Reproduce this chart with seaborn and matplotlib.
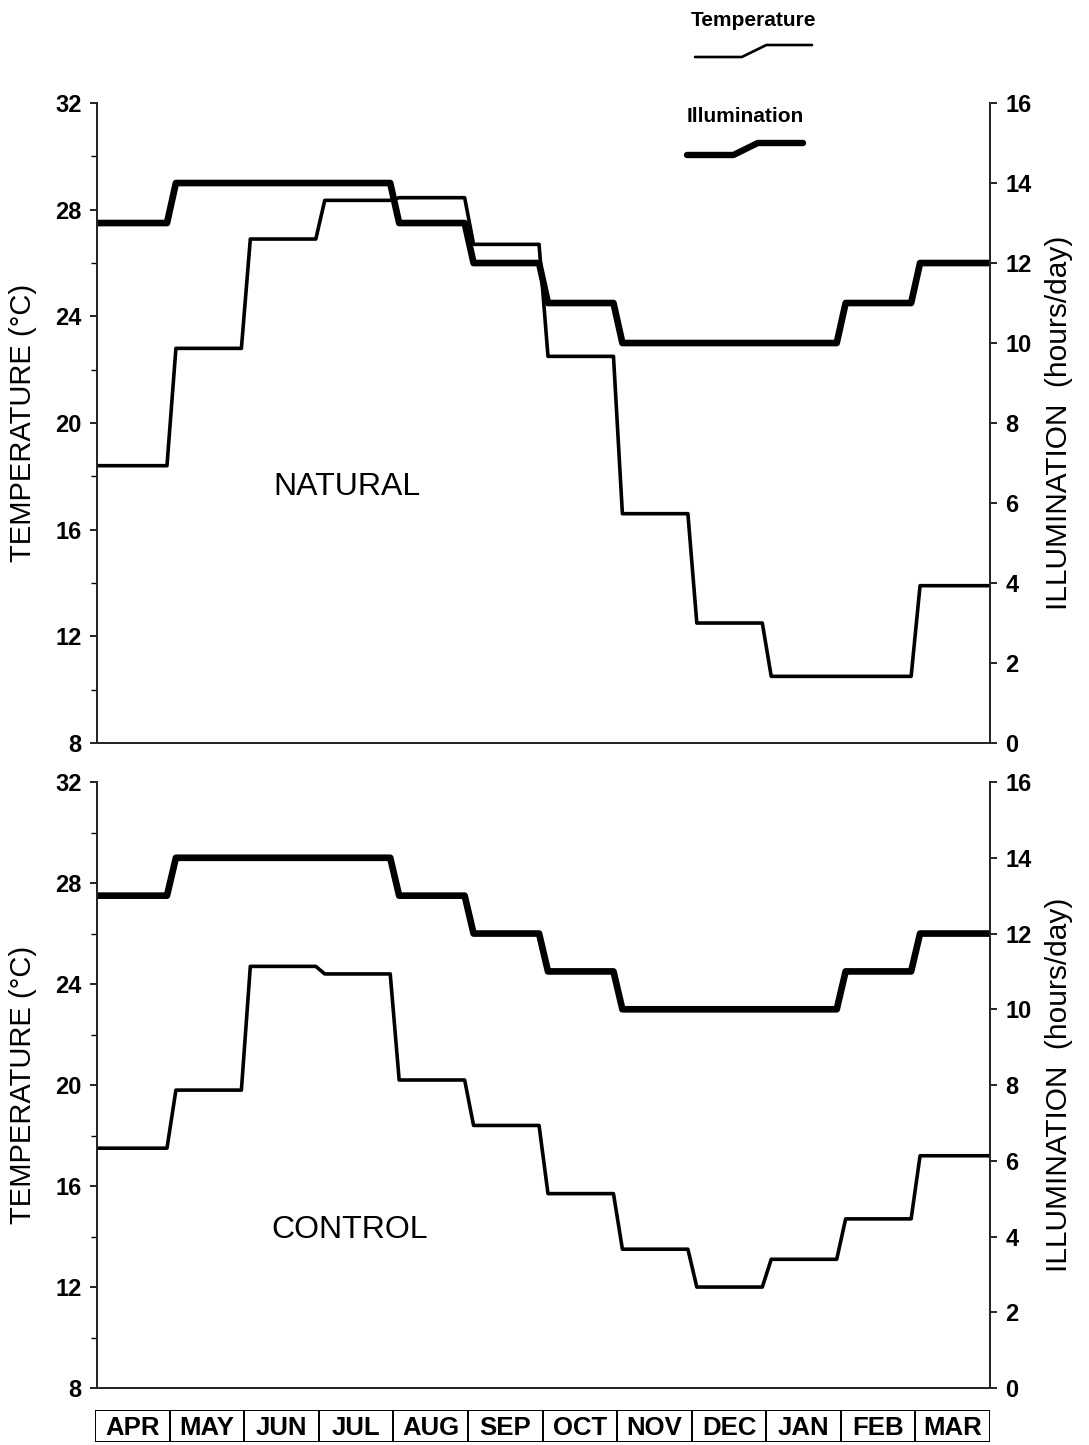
import numpy as np
import pandas as pd
import matplotlib
matplotlib.use("Agg")
import matplotlib.pyplot as plt
from matplotlib.ticker import MultipleLocator
import seaborn as sns

months = ["APR", "MAY", "JUN", "JUL", "AUG", "SEP", "OCT", "NOV", "DEC", "JAN", "FEB", "MAR"]

# temperature (°C), one value per month
natural_temp = [18.4, 22.8, 26.9, 28.35, 28.45, 26.7, 22.5, 16.6, 12.5, 10.5, 10.5, 13.9]
control_temp = [17.5, 19.8, 24.7, 24.4, 20.2, 18.4, 15.7, 13.5, 12.0, 13.1, 14.7, 17.2]

# illumination (hours/day), one value per month
natural_light = [13, 14, 14, 14, 13, 12, 11, 10, 10, 10, 11, 12]
control_light = [13, 14, 14, 14, 13, 12, 11, 10, 10, 10, 11, 12]

temp_ticks = [8, 12, 16, 20, 24, 28, 32]
light_ticks = [0, 2, 4, 6, 8, 10, 12, 14, 16]

# legend glyph: flat, short ramp, flat
glyph_x = [0.0, 0.4, 0.61, 1.0]
glyph_y = [0.0, 0.0, 1.0, 1.0]


def steps(values, ramp=0.06):
    # monthly values -> step line with short sloped transitions
    xs, ys = [], []
    n = len(values)
    for i, v in enumerate(values):
        xs += [i + (ramp if i > 0 else 0), i + 1 - (ramp if i < n - 1 else 0)]
        ys += [v, v]
    return pd.DataFrame({"month": xs, "value": ys})


sns.set_theme(style="ticks")
plt.rcParams["font.family"] = ["Liberation Sans", "DejaVu Sans"]
plt.rcParams["axes.linewidth"] = 1.4
plt.rcParams["text.color"] = "black"
plt.rcParams["axes.labelcolor"] = "black"
plt.rcParams["xtick.color"] = "black"
plt.rcParams["ytick.color"] = "black"

fig = plt.figure(figsize=(10.89, 14.45), dpi=100)

panels = [
    ("NATURAL", natural_temp, natural_light, [0.0891, 0.4858, 0.8200, 0.4429], (0.28, 0.40)),
    ("CONTROL", control_temp, control_light, [0.0891, 0.0394, 0.8200, 0.4194], (0.283, 0.261)),
]

tick_kw = dict(labelsize=17, width=1.2, length=5, pad=6, color="black", labelcolor="black")

for name, temp, light, rect, txt in panels:
    ax = fig.add_axes(rect)
    sns.lineplot(data=steps(temp), x="month", y="value", sort=False, estimator=None,
                 color="black", linewidth=2.6, ax=ax)
    ax.set_xlim(0, 12)
    ax.set_ylim(8, 32)
    ax.set_xticks([])
    ax.set_yticks(temp_ticks)
    ax.yaxis.set_minor_locator(MultipleLocator(2))
    ax.tick_params(axis="y", which="major", **tick_kw)
    ax.tick_params(axis="y", which="minor", width=1.0, length=4, color="black")
    for lab in ax.get_yticklabels():
        lab.set_fontweight("bold")
    ax.spines["top"].set_visible(False)
    ax.set_xlabel("")
    ax.set_ylabel("TEMPERATURE (°C)", fontsize=21)
    ax.yaxis.set_label_coords(-0.067, 0.5)
    ax.text(txt[0], txt[1], name, transform=ax.transAxes, fontsize=23,
            ha="center", va="center")

    ax2 = ax.twinx()
    sns.lineplot(data=steps(light), x="month", y="value", sort=False, estimator=None,
                 color="black", linewidth=4.8, ax=ax2)
    ax2.set_ylim(0, 16)
    ax2.set_yticks(light_ticks)
    ax2.tick_params(axis="y", which="major", **tick_kw)
    for lab in ax2.get_yticklabels():
        lab.set_fontweight("bold")
    ax2.spines["top"].set_visible(False)
    ax2.set_xlabel("")
    ax2.set_ylabel("ILLUMINATION  (hours/day)", fontsize=21.5, rotation=90)
    ax2.yaxis.set_label_coords(1.062, 0.5)
    ax2.yaxis.label.set_va("top")

# month boxes under the lower panel
ax_m = fig.add_axes([95 / 1089, 1 - 1442 / 1445, 895 / 1089, 32 / 1445])
sns.barplot(x=months, y=[1] * len(months), width=1, color="white",
            edgecolor="black", linewidth=1.4, ax=ax_m)
ax_m.set_xlim(-0.5, len(months) - 0.5)
ax_m.set_ylim(0, 1)
for i, m in enumerate(months):
    ax_m.text(i, 0.45, m, ha="center", va="center", fontsize=18.5, fontweight="bold")
ax_m.axis("off")

# legend at the top
for label, lw, rect, ty in [
    ("Temperature", 1.9, [695 / 1089, 1 - 57 / 1445, 117 / 1089, 12 / 1445], 1 - 20 / 1445),
    ("Illumination", 4.6, [687 / 1089, 1 - 155 / 1445, 116 / 1089, 12 / 1445], 1 - 117 / 1445),
]:
    lg = fig.add_axes(rect)
    sns.lineplot(x=glyph_x, y=glyph_y, color="black", linewidth=lw, ax=lg)
    lg.set_xlim(0, 1)
    lg.set_ylim(0, 1)
    lg.axis("off")
    for ln in lg.lines:
        ln.set_clip_on(False)
    fig.text(rect[0] + rect[2] / 2, ty, label, ha="center", va="center",
             fontsize=15, fontweight="bold")

fig.savefig("out.png", dpi=100, facecolor="white")
